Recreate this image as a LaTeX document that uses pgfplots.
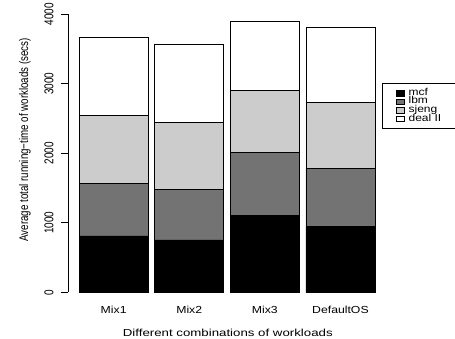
\documentclass[border=0pt]{standalone}
\usepackage{fontspec}
\setmainfont{Liberation Sans}
\newfontfamily\hfont{Liberation Sans}[FakeStretch=1.2]
\newfontfamily\lfont{Liberation Sans}[FakeStretch=1.3]
\newfontfamily\rfont{Liberation Sans}[FakeStretch=0.78]
\usepackage{pgfplots}
\pgfplotsset{compat=1.18}
\definecolor{lbmgray}{gray}{0.45}
\definecolor{sjenggray}{gray}{0.8}
\begin{document}
\begin{tikzpicture}
\begin{axis}[
  at={(68.3bp,46.7bp)}, anchor=south west,
  scale only axis, width=317.5bp, height=278.3bp,
  xmin=0.4, xmax=4.6, ymin=0, ymax=4000,
  clip=false,
  ybar stacked, bar width=0.913,
  axis y line*=left, axis x line*=bottom,
  x axis line style={draw=none},
  y axis line style={-, line width=0.8bp, black},
  xtick={1,2,3,4}, xticklabels={Mix1,Mix2,Mix3,DefaultOS},
  x tick style={draw=none},
  ytick={0,1000,2000,3000,4000},
  y tick style={line width=0.8bp, black},
  tick align=outside, major tick length=7bp,
  /pgf/number format/assume math mode=true,
  /pgf/number format/1000 sep={},
  scaled y ticks=false,
  xticklabel style={font=\hfont\fontsize{10.2bp}{12bp}\selectfont, anchor=base, inner sep=0pt, yshift=-14bp},
  yticklabel style={font=\rfont\fontsize{12.8bp}{14bp}\selectfont, inner sep=0pt, xshift=-8bp, rotate=90, anchor=base},
  every axis plot post/.append style={
    legend image code/.code={\draw[##1, line width=0.6bp] (0bp,-2.8bp) rectangle (8bp,2.8bp);}},
  legend style={
    at={(rel axis cs:0.989,0.752)}, anchor=north west,
    draw=black, line width=0.6bp, fill=white,
    inner xsep=13.7bp, inner ysep=5.8bp,
    row sep=0.8bp, column sep=3.7bp,
    nodes={inner sep=0pt, text height=6.2bp, text depth=1.6bp, text width=40bp, align=left, font=\hfont\fontsize{10bp}{10bp}\selectfont},
  },
  legend cell align=left,
]
\addplot[fill=black, draw=black, line width=0.8bp] coordinates {(1,810) (2,752) (3,1108) (4,940)};
\addplot[fill=lbmgray, draw=black, line width=0.8bp] coordinates {(1,758) (2,720) (3,901) (4,839)};
\addplot[fill=sjenggray, draw=black, line width=0.8bp] coordinates {(1,969) (2,964) (3,897) (4,955)};
\addplot[fill=white, draw=black, line width=0.8bp] coordinates {(1,1126) (2,1122) (3,993) (4,1073)};
\legend{mcf, lbm, sjeng, deal II}
\node[font=\lfont\fontsize{10.2bp}{12bp}\selectfont, anchor=base, inner sep=0pt] at (axis cs:2.51,-630) {Different combinations of workloads};
\node[font=\rfont\fontsize{12.5bp}{14bp}\selectfont, rotate=90, anchor=base, inner sep=0pt] at (axis cs:-0.133,2191) {Average total running−time of workloads (secs)};
\end{axis}
\pgfresetboundingbox
\useasboundingbox (0,0) rectangle (455bp,339bp);
\end{tikzpicture}
\end{document}
